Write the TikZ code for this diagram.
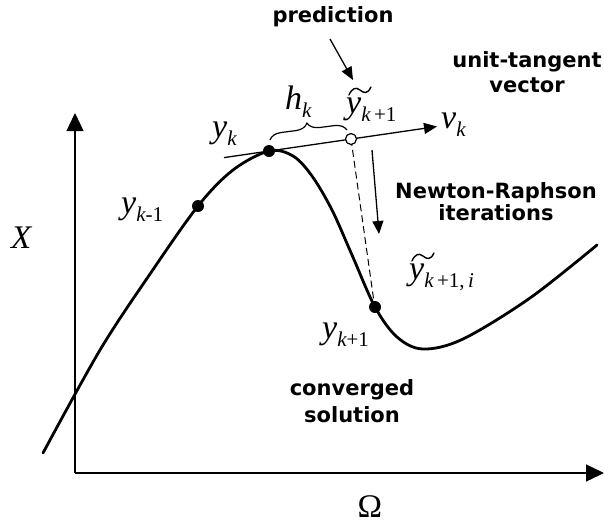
\documentclass[tikz,border=0pt]{standalone}
\usepackage{fontspec}
\setmainfont{Liberation Serif}
\newfontfamily\bsans{DejaVu Sans Bold}
\usetikzlibrary{arrows.meta,decorations.pathreplacing}
\newcommand{\bigsz}{\fontsize{34}{34}\selectfont}
\newcommand{\smlsz}{\fontsize{21}{21}\selectfont}
\newcommand{\sub}[1]{\raisebox{-8pt}{\smlsz #1}}
\newcommand{\ylab}[1]{{\bigsz\itshape y}\sub{#1}}
\newcommand{\tilt}{\tikz[x=1pt,y=1pt,baseline=0pt]\draw[line width=1.4pt,line cap=round] (0,0) .. controls (3,6.5) and (7,8.5) .. (11,5) .. controls (15,1.5) and (19,1) .. (22,8);}
\newcommand{\tly}{\rlap{\kern2pt\raisebox{18pt}{\tilt}}{\bigsz\itshape y}}
\begin{document}
\begin{tikzpicture}[x=1pt,y=-1pt,
  txt/.style={font=\bsans\fontsize{21}{#1}\selectfont,align=center,inner sep=0pt},
  mth/.style={inner sep=0pt,anchor=base west},
  thin line/.style={line width=1.3pt},
  tip/.style={-{Triangle[length=13pt,width=11pt]}},
  axtip/.style={-{Triangle[length=18pt,width=17pt]}},
  dot/.style={circle,fill=black,inner sep=0pt,minimum size=12pt},
  odot/.style={circle,draw=black,fill=white,line width=1.2pt,inner sep=0pt,minimum size=11pt}]
\useasboundingbox (0,0) rectangle (604,523);
% axes
\coordinate (O) at (75,473);
\coordinate (ytop) at (75,113);
\coordinate (xend) at (604,473);
\draw[thin line,axtip] (O) -- (ytop);
\draw[thin line,axtip] (O) -- (xend);
% curve
\draw[line width=2.8pt,line cap=round] plot[smooth,tension=0.55] coordinates {
 (43,453) (100,350) (150,274) (198,206) (233,170) (269,151)
 (293,156) (312,176) (332,210) (352,255) (375,307) (397,337) (423,349)
 (463,339) (530,298) (597,245)};
% tangent line
\coordinate (ts) at (224,157.6);
\coordinate (te) at (437,126.5);
\draw[thin line,tip] (ts) -- (te);
% dashed line
\coordinate (dtop) at (351,139);
\coordinate (dbot) at (374,302);
\draw[line width=1pt,dash pattern=on 7pt off 4pt] (dtop) -- (dbot);
% brace
\coordinate (bl) at (270,140);
\coordinate (br) at (347,130);
\draw[line width=1.2pt,decorate,decoration={brace,amplitude=12pt}] (bl) -- (br);
% points
\node[dot] (ykm1) at (198,206) {};
\node[dot] (yk) at (269,151) {};
\node[dot] (yk1) at (375,307) {};
\node[odot] (pred) at (351,139) {};
% arrows
\coordinate (pa) at (330,39);
\coordinate (pb) at (353,80);
\draw[thin line,tip] (pa) -- (pb);
\coordinate (na) at (372,150);
\coordinate (nb) at (379,234);
\draw[thin line,tip] (na) -- (nb);
% texts
\node[txt=24] (tpred) at (333,17) {prediction};
\node[txt=25] (tunit) at (527,72) {unit-tangent\\vector};
\node[txt=22] (tnr) at (496,202) {Newton-Raphson\\iterations};
\node[txt=27] (tconv) at (352,401) {converged\\solution};
% math labels
\node[mth] (lX) at (11,248) {\fontsize{33}{33}\selectfont\itshape X};
\node[inner sep=0pt,anchor=base] (lO) at (370,517) {\fontsize{33}{33}\selectfont Ω};
\node[mth] (lyk) at (212,137) {\ylab{\itshape k}};
\node[mth] (lykm1) at (121,213) {\ylab{\itshape k\upshape -1}};
\node[mth] (lyk1) at (322,338) {\ylab{\itshape k\upshape +1}};
\node[mth] (lhk) at (285,109) {{\bigsz\itshape h}\sub{\itshape k}};
\node[mth] (lvk) at (441,128) {{\bigsz\itshape v}\sub{\itshape k}};
\node[mth] (lty) at (346,113) {\tly\sub{\itshape k\,\upshape +1}};
\node[mth] (ltyi) at (409,279) {\tly\sub{\itshape k\,\upshape +1,\,\itshape i}};
\end{tikzpicture}
\end{document}
